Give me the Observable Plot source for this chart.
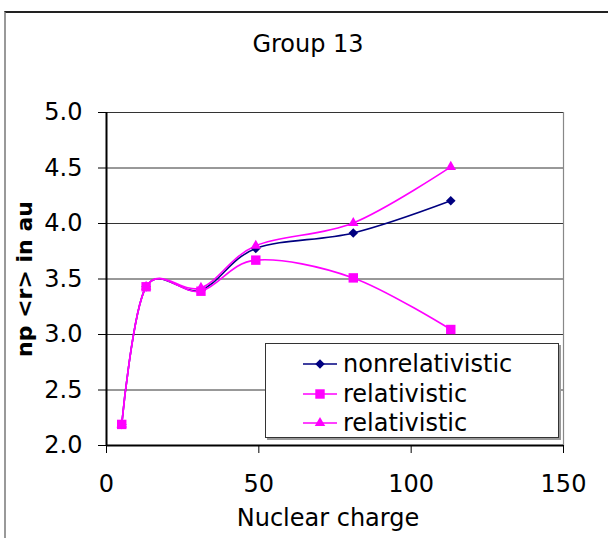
<!DOCTYPE html>
<html>
<head>
<meta charset="utf-8">
<script src="https://cdn.jsdelivr.net/npm/d3@7"></script>
<script src="https://cdn.jsdelivr.net/npm/@observablehq/plot@0.6"></script>
<style>
  html, body { margin: 0; padding: 0; background: #fff; overflow: hidden; }
  #wrap { position: relative; width: 608px; height: 538px; font-family: "DejaVu Sans", sans-serif; }
  #outer { position: absolute; left: 4px; top: 11px; right: -10px; bottom: -10px;
           border-top: 2px solid #222; border-left: 2px solid #999; pointer-events: none; }
  #legend { position: absolute; left: 265px; top: 343px; width: 294px; height: 95px;
            background: #fff; border: 1px solid #333; box-shadow: 2px 2px 0 #999; box-sizing: border-box; }
  .row { position: absolute; left: 0; height: 30px; display: flex; align-items: center; }
  .row svg { display: block; }
  .row span { font-size: 24px; color: #000; margin-left: 5px; line-height: 30px; }
</style>
</head>
<body>
<div id="wrap">
  <div id="chart"></div>
  <div id="outer"></div>
  <div id="legend"></div>
</div>
<script>
// Group 13 elements: B, Al, Ga, In, Tl, element 113
const charge = [5, 13, 31, 49, 81, 113];
const nonrelativistic = [2.19, 3.43, 3.40, 3.775, 3.915, 4.205];
const relativisticSquare = [2.19, 3.43, 3.39, 3.67, 3.51, 3.045];
const relativisticTriangle = [2.19, 3.43, 3.42, 3.80, 4.005, 4.51];

const xTicks = [0, 50, 100, 150];
const yTicks = [2.0, 2.5, 3.0, 3.5, 4.0, 4.5, 5.0];

const seriesNames = ["nonrelativistic", "relativistic", "relativistic"];
const seriesColors = ["#000080", "#ff00ff", "#ff00ff"];
const seriesSymbols = ["diamond2", "square2", "triangle2"];
const seriesRadius = [4.3, 6, 5];

const rows = (values) => charge.map((z, i) => ({z, r: values[i]}));
const nonrel = rows(nonrelativistic);
const relSq = rows(relativisticSquare);
const relTri = rows(relativisticTriangle);

const font = "DejaVu Sans, sans-serif";

const chart = Plot.plot({
  width: 608,
  height: 538,
  marginLeft: 106,
  marginRight: 45,
  marginTop: 112,
  marginBottom: 93,
  style: {fontFamily: font, fontSize: "24px", color: "#000", background: "transparent"},
  x: {domain: [0, 150]},
  y: {domain: [2, 5]},
  marks: [
    // horizontal gridlines
    Plot.ruleY(yTicks.filter(d => d > 2), {stroke: "#333", strokeWidth: 1}),
    // right edge of the plot area
    Plot.frame({anchor: "right", stroke: "#888", strokeWidth: 1.2}),
    // axes
    Plot.axisY({ticks: yTicks, tickFormat: d => d.toFixed(1), tickSize: 8, tickPadding: 16,
                fontSize: 24, label: null, stroke: "#000"}),
    Plot.axisX({ticks: xTicks, tickFormat: d => d, tickSize: 8, tickPadding: 21,
                fontSize: 24, label: null, stroke: "#000"}),
    Plot.ruleX([0], {stroke: "#000", strokeWidth: 2}),
    Plot.ruleY([2], {stroke: "#000", strokeWidth: 2.2}),
    // smoothed series lines
    Plot.line(nonrel, {x: "z", y: "r", stroke: seriesColors[0], strokeWidth: 1.6, curve: "cardinal"}),
    Plot.line(relTri, {x: "z", y: "r", stroke: seriesColors[2], strokeWidth: 1.6, curve: "cardinal"}),
    Plot.line(relSq, {x: "z", y: "r", stroke: seriesColors[1], strokeWidth: 1.6, curve: "cardinal"}),
    // markers
    Plot.dot(nonrel, {x: "z", y: "r", symbol: seriesSymbols[0], fill: seriesColors[0], r: seriesRadius[0]}),
    Plot.dot(relTri, {x: "z", y: "r", symbol: seriesSymbols[2], fill: seriesColors[2], r: seriesRadius[2]}),
    Plot.dot(relSq, {x: "z", y: "r", symbol: seriesSymbols[1], fill: seriesColors[1], r: seriesRadius[1]}),
    // titles
    Plot.text(["Group 13"], {text: d => d, frameAnchor: "top", textAnchor: "middle", lineAnchor: "middle",
                             dy: -68, dx: -27, fontSize: 24}),
    Plot.text(["np <r> in au"], {text: d => d, frameAnchor: "left", textAnchor: "middle", lineAnchor: "middle",
                                 dx: -82, rotate: -90, fontSize: 22, fontWeight: "bold"}),
    Plot.text(["Nuclear charge"], {text: d => d, frameAnchor: "bottom", textAnchor: "middle", lineAnchor: "middle",
                                   dy: 73, dx: -7, fontSize: 24})
  ]
});
document.getElementById("chart").appendChild(chart);

// legend
const legend = document.getElementById("legend");
const symbolPaths = seriesSymbols.map((s, i) => {
  const sym = {diamond2: d3.symbolDiamond2, square2: d3.symbolSquare2, triangle2: d3.symbolTriangle2}[s];
  return d3.symbol(sym, Math.PI * seriesRadius[i] ** 2)();
});
seriesNames.forEach((name, i) => {
  const row = document.createElement("div");
  row.className = "row";
  row.style.left = "36px";
  row.style.top = (5 + i * 29.5) + "px";
  row.innerHTML =
    `<svg width="36" height="30" viewBox="0 0 36 30">
       <line x1="1" y1="15" x2="35" y2="15" stroke="${seriesColors[i]}" stroke-width="1.6"/>
       <path d="${symbolPaths[i]}" transform="translate(18,15)" fill="${seriesColors[i]}"/>
     </svg><span>${name}</span>`;
  legend.appendChild(row);
});
</script>
</body>
</html>
